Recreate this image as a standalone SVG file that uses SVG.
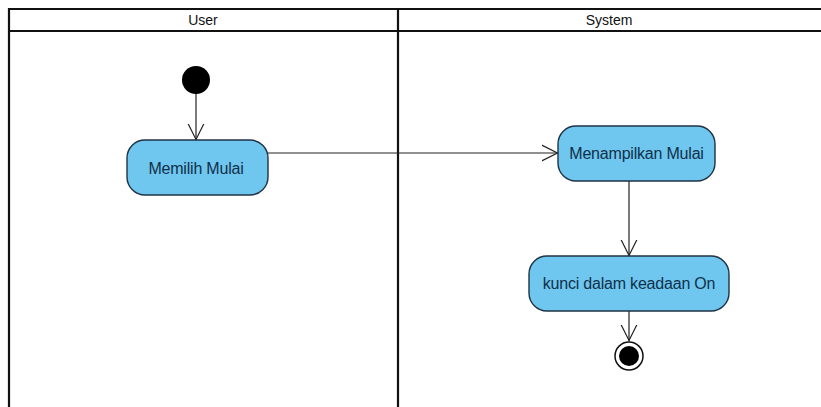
<svg xmlns="http://www.w3.org/2000/svg" width="821" height="407" viewBox="0 0 821 407">
  <defs>
    <marker id="open" viewBox="0 0 17 18" refX="16.5" refY="9" markerWidth="17" markerHeight="18" markerUnits="userSpaceOnUse" orient="auto">
      <path d="M0,1 L16,9 L0,17" fill="none" stroke="#222" stroke-width="1.2"/>
    </marker>
  </defs>
  <style>
    .lane { stroke: #111; stroke-width: 2.2; fill: none; }
    .hdr { font-family: "Liberation Sans", Arial, sans-serif; font-size: 14px; fill: #111; text-anchor: middle; }
    .act rect { fill: #6fc6ef; stroke: #1f3344; stroke-width: 1.4; }
    .act text { font-family: "Liberation Sans", Arial, sans-serif; font-size: 16px; fill: #10304a; text-anchor: middle; letter-spacing: -0.2px; }
    .flow { stroke: #222; stroke-width: 1.2; fill: none; marker-end: url(#open); }
  </style>
  <rect width="821" height="407" fill="#fff"/>

  <!-- swimlanes -->
  <g id="lanes">
    <line class="lane" x1="9" y1="9" x2="821" y2="9"/>
    <line class="lane" x1="9" y1="31" x2="821" y2="31"/>
    <line class="lane" x1="9" y1="8" x2="9" y2="407"/>
    <line class="lane" x1="398" y1="8" x2="398" y2="407"/>
    <text class="hdr" x="203" y="25">User</text>
    <text class="hdr" x="609" y="25">System</text>
  </g>

  <!-- connectors -->
  <g id="connectors">
    <line class="flow" x1="196" y1="92" x2="196" y2="140"/>
    <line class="flow" x1="268" y1="153" x2="558" y2="153"/>
    <line class="flow" x1="629" y1="181" x2="629" y2="256"/>
    <line class="flow" x1="629" y1="311" x2="629" y2="341"/>
  </g>

  <g id="start">
    <circle cx="196" cy="80" r="14" fill="#000"/>
  </g>

  <g id="memilih" class="act">
    <rect x="127" y="140" width="141" height="55" rx="18"/>
    <text x="196" y="174">Memilih Mulai</text>
  </g>

  <g id="menampilkan" class="act">
    <rect x="558" y="126" width="157" height="55" rx="18"/>
    <text x="636.5" y="159">Menampilkan Mulai</text>
  </g>

  <g id="kunci" class="act">
    <rect x="529" y="256" width="200" height="55" rx="18"/>
    <text x="629" y="289">kunci dalam keadaan On</text>
  </g>

  <g id="end">
    <circle cx="629" cy="356" r="14" fill="#fff" stroke="#111" stroke-width="1.5"/>
    <circle cx="629" cy="356" r="10" fill="#000"/>
  </g>
</svg>
